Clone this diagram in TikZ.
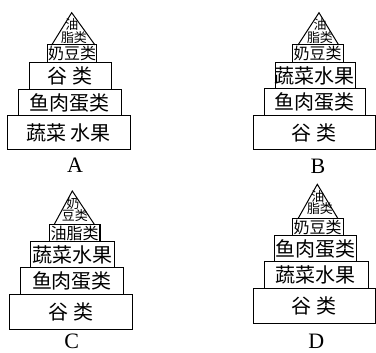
\documentclass[tikz,border=0pt]{standalone}
\usepackage{fontspec}
\setmainfont{Liberation Serif}
\newfontfamily\cjk{Noto Sans CJK SC}
\begin{document}
\begin{tikzpicture}[x=1pt,y=-1pt,
  lay/.style={draw,line width=1pt,inner sep=0pt,font=\cjk\fontsize{20}{20}\selectfont},
  top/.style={draw,line width=1pt,inner sep=0pt,font=\cjk\fontsize{16}{16}\selectfont},
  tri/.style={draw,line width=1pt,line join=miter},
  tt/.style={inner sep=0pt,font=\cjk\fontsize{13}{13}\selectfont},
  lbl/.style={inner sep=0pt,font=\fontsize{22}{22}\selectfont}]
\useasboundingbox (0,0) rectangle (376,353);
% ---- A ----
\coordinate (aT) at (71.7,12.7);
\coordinate (aL) at (51.7,45);
\coordinate (aR) at (95,45);
\draw[tri] (aL) -- (aT) -- (aR);
\node[tt] (at1) at (72,25) {油};
\node[tt] (at2) at (74,37.5) {脂类};
\node[top,minimum width=49,minimum height=17.7] (a1) at (72.2,53.85) {奶豆类};
\node[lay,minimum width=82,minimum height=26.6] (a2) at (70,76) {谷\ 类};
\node[lay,minimum width=102.7,minimum height=26.7] (a3) at (69.65,102.65) {鱼肉蛋类};
\node[lay,minimum width=122.7,minimum height=33.3] (a4) at (68.65,132.65) {蔬菜\,水果};
\node[lbl] (la) at (75,165) {A};
% ---- B ----
\coordinate (bT) at (319,12.7);
\coordinate (bL) at (298,45);
\coordinate (bR) at (338.7,45);
\draw[tri] (bL) -- (bT) -- (bR);
\node[tt] (bt1) at (320,25) {油};
\node[tt] (bt2) at (320,37.5) {脂类};
\node[top,minimum width=50.7,minimum height=17.7] (b1) at (317.65,53.85) {奶豆类};
\node[lay,minimum width=79.4,minimum height=26.3] (b2) at (315,75.85) {蔬菜水果};
\node[lay,minimum width=101.7,minimum height=26.7] (b3) at (314.85,102.35) {鱼肉蛋类};
\node[lay,minimum width=122,minimum height=34.3] (b4) at (314,132.85) {谷\ 类};
\node[lbl] (lb) at (318,166.7) {B};
% ---- C ----
\coordinate (cT) at (72.3,191);
\coordinate (cL) at (54.3,224.3);
\coordinate (cR) at (94.3,224.3);
\draw[tri] (cL) -- (cT) -- (cR);
\node[tt] (ct1) at (73,203.5) {奶};
\node[tt] (ct2) at (75,216) {豆类};
\node[top,minimum width=50.7,minimum height=17.7] (c1) at (74.65,233.15) {油脂类};
\node[lay,minimum width=83.6,minimum height=25.7] (c2) at (72.5,254.85) {蔬菜水果};
\node[lay,minimum width=102.6,minimum height=26.6] (c3) at (72,281) {鱼肉蛋类};
\node[lay,minimum width=123,minimum height=35] (c4) at (70.8,311.8) {谷\ 类};
\node[lbl] (lc) at (71.7,341.5) {C};
% ---- D ----
\coordinate (dT) at (317.3,184.3);
\coordinate (dL) at (298,218.7);
\coordinate (dR) at (338,218.7);
\draw[tri] (dL) -- (dT) -- (dR);
\node[tt] (dt1) at (318,196.5) {油};
\node[tt] (dt2) at (320,209) {脂类};
\node[top,minimum width=50.7,minimum height=17.3] (d1) at (317.65,227.35) {奶豆类};
\node[lay,minimum width=81.6,minimum height=26] (d2) at (315.5,249) {鱼肉蛋类};
\node[lay,minimum width=104,minimum height=26.7] (d3) at (316,275.35) {蔬菜水果};
\node[lay,minimum width=122,minimum height=34.6] (d4) at (314,306) {谷\ 类};
\node[lbl] (ld) at (316.3,341) {D};
\end{tikzpicture}
\end{document}
